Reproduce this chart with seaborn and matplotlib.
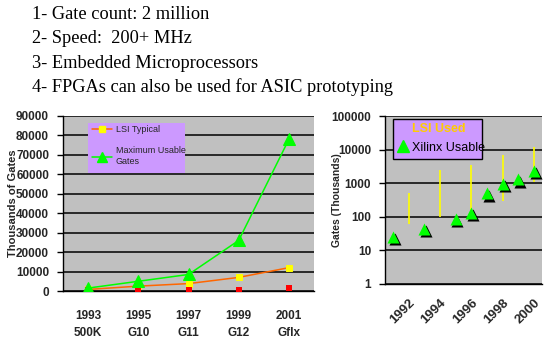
import matplotlib
matplotlib.use("Agg")
import matplotlib.pyplot as plt
import matplotlib.transforms as mtransforms
from matplotlib.lines import Line2D
from matplotlib.patches import Rectangle
import seaborn as sns
import pandas as pd

# ---------------- data ----------------
bullet_lines = [
    "1- Gate count: 2 million",
    "2- Speed:  200+ MHz",
    "3- Embedded Microprocessors",
    "4- FPGAs can also be used for ASIC prototyping",
]

left_years = ["1993", "1995", "1997", "1999", "2001"]
left_parts = ["500K", "G10", "G11", "G12", "Gflx"]
max_usable = [1500, 5000, 8500, 26000, 78000]
lsi_typical = [800, 2500, 3800, 7000, 12000]
red_points = [300, 300, 400, 300, 1500]
left_yticks = [0, 10000, 20000, 30000, 40000, 50000, 60000, 70000, 80000, 90000]

xilinx_years = [1991, 1993, 1995, 1996, 1997, 1998, 1999, 2000]
xilinx_usable = [25, 43, 85, 130, 500, 950, 1300, 2300]
lsi_years = [1992, 1994, 1996, 1998, 2000]
lsi_high = [500, 2500, 3500, 7000, 12000]
lsi_low = [60, 100, 150, 300, 1100]
right_yticks = [1, 10, 100, 1000, 10000, 100000]
right_ytick_labels = ["1", "10", "100", "1000", "10000", "100000"]
right_xtick_years = [1992, 1994, 1996, 1998, 2000]
right_year_bounds = [1990.5 + i for i in range(11)]

# ---------------- style ----------------
sns.set_style("white")
plt.rcParams["font.family"] = ["Liberation Sans", "DejaVu Sans"]

W, H = 549, 344
fig = plt.figure(figsize=(W / 100, H / 100), dpi=100)
fig.patch.set_facecolor("white")

GRAY = "#C0C0C0"
PURPLE = "#CC99FF"
GREEN = "#00FF00"
ORANGE = "#FF6600"
YELLOW = "#FFFF00"

def px_axes(x0, y0, x1, y1):
    return fig.add_axes([x0 / W, 1 - y1 / H, (x1 - x0) / W, (y1 - y0) / H])

# ---------------- title text ----------------
for i, line in enumerate(bullet_lines):
    fig.text(32 / W, 1 - (14.5 + 24.3 * i) / H, line, family="Liberation Serif",
             fontsize=13.2, va="center", ha="left", color="black")

# ---------------- left chart ----------------
axL = px_axes(63, 116, 314, 291)
axL.set_facecolor(GRAY)
dfL = pd.DataFrame({
    "pos": range(len(left_years)),
    "max_usable": max_usable,
    "lsi_typical": lsi_typical,
    "red": red_points,
})
axL.set_ylim(0, 90000)
axL.set_xlim(-0.5, len(left_years) - 0.5)
axL.set_yticks(left_yticks)
axL.yaxis.grid(True, color="black", linewidth=1.1)
axL.set_axisbelow(True)

sns.lineplot(data=dfL, x="pos", y="lsi_typical", ax=axL, color=ORANGE, linewidth=1.1,
             marker="s", markersize=5, markerfacecolor=YELLOW, markeredgecolor=YELLOW,
             sort=False, zorder=3)
sns.scatterplot(data=dfL, x="pos", y="red", ax=axL, color="#FF0000", marker="s",
                s=22, edgecolor="#FF0000", linewidth=0, zorder=3)
sns.lineplot(data=dfL, x="pos", y="max_usable", ax=axL, color=GREEN, linewidth=1.1,
             marker="^", markersize=8, markerfacecolor=GREEN, markeredgecolor=GREEN,
             sort=False, zorder=4)

axL.set_xticks(list(dfL["pos"]))
axL.set_xticklabels([f"{y}\n{p}" for y, p in zip(left_years, left_parts)],
                    fontsize=8.5, fontweight="bold", linespacing=1.55)
axL.set_xticks([p - 0.5 for p in range(len(left_years) + 1)], minor=True)
axL.tick_params(axis="x", which="major", length=0, pad=14)
axL.tick_params(axis="x", which="minor", length=5, width=1, color="black", direction="out")
axL.set_yticklabels([str(v) for v in left_yticks], fontsize=8.5, fontweight="bold")
axL.tick_params(axis="y", length=4, width=1, color="black", direction="out", pad=6)
axL.tick_params(axis="both", bottom=True, left=True)
axL.set_xlabel("")
axL.set_ylabel("Thousands of Gates", fontsize=8, fontweight="bold")
axL.yaxis.set_label_coords((18 - 63) / 251, 0.5)
for s in ["top", "right"]:
    axL.spines[s].set_visible(False)
for s in ["left", "bottom"]:
    axL.spines[s].set_color("black")
    axL.spines[s].set_linewidth(1)

axL.add_patch(Rectangle((0.10, 0.674), 0.385, 0.286, transform=axL.transAxes,
                        facecolor=PURPLE, edgecolor="none", zorder=5))
hL = [Line2D([], [], color=ORANGE, lw=1.1, marker="s", markersize=5,
             markerfacecolor=YELLOW, markeredgecolor=YELLOW),
      Line2D([], [], color=GREEN, lw=1.1, marker="^", markersize=7,
             markerfacecolor=GREEN, markeredgecolor=GREEN)]
legL = axL.legend(hL, ["LSI Typical", "Maximum Usable\nGates"], loc="upper left",
                  bbox_to_anchor=(0.105, 0.965), frameon=False, fontsize=6.5,
                  handlelength=2.2, handletextpad=0.4, labelspacing=1.4,
                  borderaxespad=0, borderpad=0.3)
legL.set_zorder(6)

# ---------------- right chart ----------------
axR = px_axes(385, 116, 542, 284)
axR.set_facecolor(GRAY)
axR.set_yscale("log")
axR.set_ylim(1, 100000)
axR.set_xlim(right_year_bounds[0], right_year_bounds[-1])
axR.set_yticks(right_yticks)
axR.set_yticklabels(right_ytick_labels, fontsize=8.5, fontweight="bold")
axR.minorticks_off()
axR.yaxis.grid(True, color="black", linewidth=1.1)
axR.set_axisbelow(True)

axR.vlines(lsi_years, lsi_low, lsi_high, color=YELLOW, linewidth=1.2, zorder=3)

dfR = pd.DataFrame({"year": xilinx_years, "usable": xilinx_usable})
shadow = mtransforms.offset_copy(axR.transData, fig=fig, x=1.3, y=-1.6, units="points")
sns.scatterplot(data=dfR, x="year", y="usable", ax=axR, color="black", marker="^",
                s=75, linewidth=0, transform=shadow, zorder=3)
sns.scatterplot(data=dfR, x="year", y="usable", ax=axR, color=GREEN, marker="^",
                s=75, linewidth=0, zorder=4)

axR.set_xticks(right_xtick_years)
axR.set_xticklabels([str(y) for y in right_xtick_years], fontsize=9.5, fontweight="bold",
                    rotation=45, ha="right", rotation_mode="anchor")
axR.set_xticks(right_year_bounds, minor=True)
axR.tick_params(axis="x", which="major", length=0, pad=9)
axR.tick_params(axis="x", which="minor", length=5, width=1, color="black", direction="out")
axR.tick_params(axis="y", which="major", length=4, width=1, color="black", direction="out", pad=6, left=True)
axR.tick_params(axis="x", bottom=True)
axR.set_xlabel("")
axR.set_ylabel("Gates (Thousands)", fontsize=7.5, fontweight="bold")
axR.yaxis.set_label_coords((342 - 385) / 157, 0.5)
for s in ["top", "right"]:
    axR.spines[s].set_visible(False)
for s in ["left", "bottom"]:
    axR.spines[s].set_color("black")
    axR.spines[s].set_linewidth(1)

axR.add_patch(Rectangle((0.051, 0.744), 0.567, 0.238, transform=axR.transAxes,
                        facecolor=PURPLE, edgecolor="black", linewidth=1, zorder=5))
hR = [Line2D([], [], linestyle="none"),
      Line2D([], [], linestyle="none", marker="^", markersize=9,
             markerfacecolor=GREEN, markeredgecolor=GREEN)]
legR = axR.legend(hR, ["LSI Used", "Xilinx Usable"], loc="upper left",
                  bbox_to_anchor=(0.06, 0.975), frameon=False, fontsize=9,
                  handlelength=0.9, handletextpad=0.3, labelspacing=0.55,
                  borderaxespad=0, borderpad=0.2, labelcolor=["#FFCC00", "black"])
legR.get_texts()[0].set_fontweight("bold")
legR.set_zorder(6)

fig.savefig("out.png", dpi=100, facecolor="white")
